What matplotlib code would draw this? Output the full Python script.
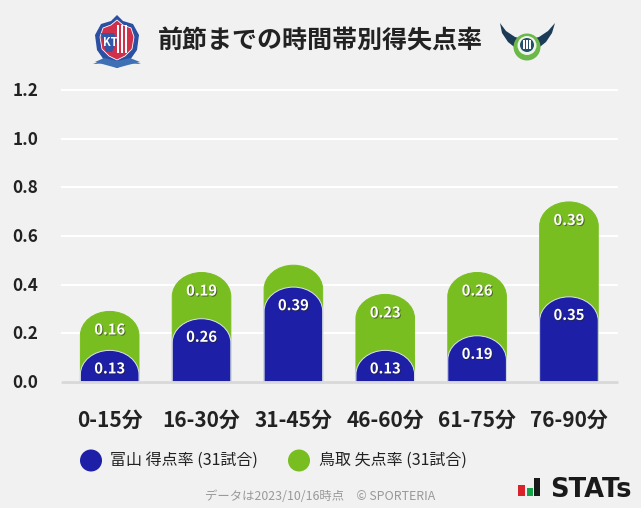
import matplotlib
matplotlib.use("Agg")
import matplotlib.pyplot as plt
import matplotlib.patheffects as pe
from matplotlib.patches import Circle, PathPatch, Polygon, Rectangle
from matplotlib.path import Path
from matplotlib.transforms import ScaledTranslation

plt.rcParams["font.family"] = ["Noto Sans CJK JP", "DejaVu Sans"]

categories = ["0-15分", "16-30分", "31-45分", "46-60分", "61-75分", "76-90分"]
toyama_scored = [0.13, 0.26, 0.39, 0.13, 0.19, 0.35]
tottori_conceded = [0.16, 0.19, 0.09, 0.23, 0.26, 0.39]
tottori_labels = ["0.16", "0.19", "", "0.23", "0.26", "0.39"]
y_ticks = [0.0, 0.2, 0.4, 0.6, 0.8, 1.0, 1.2]

title = "前節までの時間帯別得失点率"
legend_labels = ["富山 得点率 (31試合)", "鳥取 失点率 (31試合)"]
footer = "データは2023/10/16時点　© SPORTERIA"

BG = "#f1f1f1"
BLUE = "#1d20a6"
GREEN = "#79be20"
W, H = 641, 508
BAR_W = 0.638
ROUND_Y = 0.099
K = 0.5523


def rounded_bar(ax, x, h, color, edge, zorder):
    l, r = x - BAR_W / 2, x + BAR_W / 2
    rx = BAR_W / 2
    s = h - ROUND_Y
    verts = [
        (l, 0), (l, s),
        (l, s + K * ROUND_Y), (x - K * rx, h), (x, h),
        (x + K * rx, h), (r, s + K * ROUND_Y), (r, s),
        (r, 0), (l, 0),
    ]
    codes = [Path.MOVETO, Path.LINETO] + [Path.CURVE4] * 6 + [Path.LINETO, Path.CLOSEPOLY]
    ax.add_patch(PathPatch(Path(verts, codes), fc=color, ec=edge, lw=0.7, zorder=zorder))


def bar_label(ax, x, h, text):
    ax.annotate(
        text, (x, h), xytext=(0, -13), textcoords="offset points",
        ha="center", va="center", color="white", fontsize=10.6, fontweight="bold",
        path_effects=[pe.withSimplePatchShadow(offset=(0.7, -0.7), shadow_rgbFace="#222222", alpha=0.55)],
        zorder=6,
    )


def draw_logos(ov):
    # Toyama crest, rough
    ov.add_patch(Polygon([(117, 15), (123, 21), (133, 24), (139, 35), (137, 50), (130, 60), (141, 64), (128, 63),
                          (117, 68), (106, 63), (93, 64), (104, 60), (97, 50), (95, 35), (101, 24), (111, 21)],
                         fc="#2a4fa3", ec="none", zorder=3))
    ov.add_patch(Polygon([(117, 20), (123, 25), (131, 28), (134, 37), (132, 49), (125, 56), (117, 60), (109, 56),
                          (102, 49), (100, 37), (103, 28), (111, 25)], fc="#d0304a", ec="white", lw=0.6, zorder=4))
    for xs in (117, 121, 125):
        ov.add_patch(Rectangle((xs, 25), 1.6, 28, fc="white", ec="none", zorder=5))
    ov.add_patch(Polygon([(101, 33), (114, 33), (117, 41), (112, 52), (106, 52)], fc="#3057a8", ec="none", zorder=5))
    ov.text(110, 42, "KT", color="white", fontsize=8, fontweight="bold", ha="center", va="center", zorder=6)
    ov.add_patch(Polygon([(95, 62), (104, 58), (117, 61), (130, 58), (140, 62), (128, 65), (117, 68), (106, 65)],
                         fc="#3f6fb5", ec="none", zorder=6))
    # Tottori emblem, rough
    navy = "#1c3b57"
    ov.add_patch(Polygon([(500, 23), (506, 31), (515, 37), (527, 40), (539, 37), (548, 31), (555, 23), (552, 33),
                          (546, 42), (536, 50), (518, 50), (508, 42), (502, 33)], fc=navy, ec="none", zorder=3))
    ov.add_patch(Circle((527, 47), 13.5, fc="#6cb84a", ec="none", zorder=4))
    ov.add_patch(Circle((527, 45.5), 9.5, fc="#eef5ea", ec="none", zorder=5))
    ov.add_patch(Circle((527, 45), 7, fc="#24506a", ec="none", zorder=6))
    for xs in (524, 527, 530):
        ov.add_patch(Rectangle((xs - 0.7, 40), 1.4, 9, fc="white", ec="none", zorder=7))


def draw_stats_logo(ov):
    ov.add_patch(Rectangle((518, 485), 7, 11, fc="#d8232a", ec="none"))
    ov.add_patch(Rectangle((527, 488), 6, 8, fc="#17a34a", ec="none"))
    ov.add_patch(Rectangle((534, 478), 6, 18, fc="#1a1a1a", ec="none"))
    ov.text(550, 497, "STATs", color="#1a1a1a", fontsize=18.5, fontweight="bold",
            family="DejaVu Sans", ha="left", va="baseline")


def main():
    fig = plt.figure(figsize=(W / 100, H / 100), dpi=100, facecolor=BG)
    ax = fig.add_axes([61 / W, (H - 382) / H, (618 - 61) / W, (382 - 90) / H], facecolor=BG)
    ax.set_xlim(-0.53, 5.534)
    ax.set_ylim(0, 1.2)

    for x, (b, g) in enumerate(zip(toyama_scored, tottori_conceded)):
        rounded_bar(ax, x, b + g, GREEN, GREEN, 3)
        rounded_bar(ax, x, b, BLUE, "#dfe3ee", 4)
        bar_label(ax, x, b, f"{b:.2f}")
        if tottori_labels[x]:
            bar_label(ax, x, b + g, tottori_labels[x])

    ax.set_yticks(y_ticks, [f"{v:.1f}" for v in y_ticks])
    ax.set_xticks(range(len(categories)), categories)
    ax.grid(axis="y", color="white", lw=1.5, clip_on=False, solid_capstyle="butt")
    ax.set_axisbelow(True)
    ax.tick_params(axis="y", length=0, pad=16.5, labelsize=12.3, labelcolor="#222222")
    ax.tick_params(axis="x", length=0, pad=20, labelsize=15, labelcolor="#222222")
    for lab in ax.get_xticklabels() + ax.get_yticklabels():
        lab.set_fontweight("bold")
    nudge = ScaledTranslation(0, 1 / 100, fig.dpi_scale_trans)
    for lab in ax.get_yticklabels():
        lab.set_transform(lab.get_transform() + nudge)
    for name in ("top", "right", "left"):
        ax.spines[name].set_visible(False)
    ax.spines["bottom"].set_color("#d8d8d8")
    ax.spines["bottom"].set_linewidth(2)
    ax.spines["bottom"].set_capstyle("butt")
    ax.spines["bottom"].set_zorder(5)

    # pixel overlay for header, legend and footer
    ov = fig.add_axes([0, 0, 1, 1], facecolor="none")
    ov.set_xlim(0, W)
    ov.set_ylim(H, 0)
    ov.axis("off")

    ov.text(320.5, 41, title, fontsize=18, fontweight="bold", color="#222222", ha="center", va="center")
    draw_logos(ov)

    ov.add_patch(Circle((91, 460.5), 11, fc=BLUE, ec="none"))
    ov.text(110, 460.5, legend_labels[0], fontsize=11.5, color="#222222", ha="left", va="center")
    ov.add_patch(Circle((299, 460.5), 11, fc=GREEN, ec="none"))
    ov.text(319, 460.5, legend_labels[1], fontsize=11.5, color="#222222", ha="left", va="center")

    ov.text(320.5, 497, footer, fontsize=8.9, color="#999999", ha="center", va="center")
    draw_stats_logo(ov)

    fig.savefig("out.png", dpi=100, facecolor=BG)


if __name__ == "__main__":
    main()
